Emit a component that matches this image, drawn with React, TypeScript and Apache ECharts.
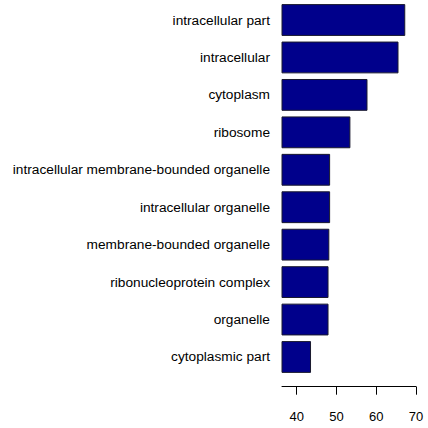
import React, { useEffect, useRef } from "react";
import * as echarts from "echarts";

const categories = [
  "intracellular part",
  "intracellular",
  "cytoplasm",
  "ribosome",
  "intracellular membrane-bounded organelle",
  "intracellular organelle",
  "membrane-bounded organelle",
  "ribonucleoprotein complex",
  "organelle",
  "cytoplasmic part",
];
const values = [67.3, 65.6, 57.8, 53.5, 48.4, 48.4, 48.2, 48.0, 48.0, 43.6];
const xTicks = [40, 50, 60, 70];

export default function App() {
  const ref = useRef<HTMLDivElement>(null);
  useEffect(() => {
    if (!ref.current) return;
    const chart = echarts.init(ref.current, null, { renderer: "svg" });
    chart.setOption({
      animation: false,
      backgroundColor: "#ffffff",
      grid: { left: 282, right: 12, top: 1.3, bottom: 52.3, containLabel: false },
      xAxis: {
        type: "value",
        min: 36.3,
        max: 70,
        offset: 11,
        axisLine: { show: true, lineStyle: { color: "#000", width: 1 } },
        axisTick: {
          show: true,
          inside: false,
          length: 8,
          lineStyle: { color: "#000" },
          customValues: xTicks,
        },
        axisLabel: {
          color: "#000",
          fontFamily: "Liberation Sans",
          fontSize: 13,
          margin: 23,
          customValues: xTicks,
          showMinLabel: true,
          showMaxLabel: true,
        },
        splitLine: { show: false },
      },
      yAxis: {
        type: "category",
        data: categories,
        inverse: true,
        axisLine: { show: false },
        axisTick: { show: false },
        axisLabel: {
          color: "#000",
          fontFamily: "Liberation Sans",
          fontSize: 13.7,
          margin: 12,
        },
      },
      series: [
        {
          type: "bar",
          data: values,
          barCategoryGap: "15%",
          itemStyle: { color: "#00008B", borderColor: "#1a1a2e", borderWidth: 1 },
        },
      ],
    });
    return () => chart.dispose();
  }, []);
  return (
    <div
      ref={ref}
      style={{ position: "fixed", left: 0, top: 0, width: 428, height: 428 }}
    />
  );
}
